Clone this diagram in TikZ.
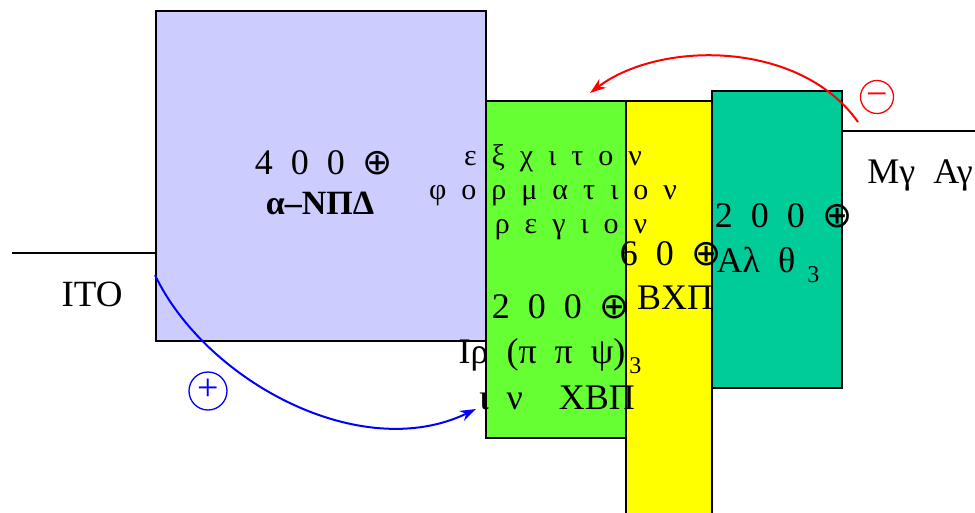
\documentclass[tikz,border=0pt]{standalone}
\usepackage{fontspec}
\setmainfont[WordSpace=2]{Liberation Serif}
\newfontfamily\symfont{DejaVu Sans}
\usetikzlibrary{arrows.meta,positioning}
\definecolor{NPD}{HTML}{CCCCFF}
\definecolor{CBP}{HTML}{66FF33}
\definecolor{BCP}{HTML}{FFFF00}
\definecolor{Alq}{HTML}{00CC99}
\newcommand{\ang}{{\symfont ⊕}}

\begin{document}
\begin{tikzpicture}[x=1pt, y=-1pt,
    layer/.style={draw, line width=1.5pt, rectangle, anchor=north west, inner sep=0pt},
    big/.style={font={\fontsize{36}{40}\selectfont}, align=center, inner sep=0pt},
    small/.style={font={\fontsize{30}{34}\selectfont}, align=center, inner sep=0pt},
    charge/.style={draw, circle, line width=1.3pt, inner sep=0pt, text height=19pt, text depth=0pt, font={\fontsize{38}{38}\selectfont}},
    electrode/.style={line width=1.3pt}
    ]
    \useasboundingbox (0,0) rectangle (975,512);

    \node [layer, fill=NPD, minimum width=330pt, minimum height=330pt] (npd) at (155,10) {};
    \node [layer, fill=CBP, minimum width=140pt, minimum height=337pt] (cbp) at (485,100) {};
    \node [layer, fill=BCP, minimum width=86pt, minimum height=420pt] (bcp) at (625,100) {};
    \node [layer, fill=Alq, minimum width=130pt, minimum height=297pt] (alq) at (711,90) {};

    \coordinate (ito) at (12,253);
    \coordinate (mgag) at (975,131);
    \draw [electrode] (ito) -- (npd.west |- ito);
    \draw [electrode] (alq.east |- mgag) -- (mgag);

    \node [big] (npdthick) at (324,163) {4 0 0 \ang};
    \node [big, font={\fontsize{34}{38}\selectfont\bfseries}] (npdname) at (320,203) {α–ΝΠΔ};
    \node [small] (exciton) at (553,192) {ε ξ χ ι τ ο ν\\φ ο ρ μ α τ ι ο ν\\\hspace*{1.2em}ρ ε γ ι ο ν};
    \node [big] (cbpthick) at (561,307) {2 0 0 \ang};
    \node [big] (irppy) at (550,356) {Ιρ (π π ψ)\raisebox{-0.6ex}{\fontsize{24}{24}\selectfont\,3}};
    \node [big] (incbp) at (557,398) {ι ν\quad ΧΒΠ};
    \node [big] (bcpthick) at (671,254) {6 0 \ang};
    \node [big] (bcpname) at (675,298) {ΒΧΠ};
    \node [big] (alqthick) at (784,216) {2 0 0 \ang};
    \node [big] (alqname) at (768,265) {Αλ θ\raisebox{-0.6ex}{\fontsize{24}{24}\selectfont\ 3}};
    \node [big, font={\fontsize{37}{40}\selectfont}] (itoname) at (92,294) {ΙΤΟ};
    \node [big] (mgagname) at (920,175) {Μγ Αγ};

    \node [charge, blue, minimum size=38pt] (hole) at (208,391) {+};
    \node [charge, red, minimum size=33pt] (electron) at (877,97) {−};

    \coordinate (hstart) at (155,275);
    \coordinate (hend) at (476,409);
    \coordinate (estart) at (858,122);
    \coordinate (eend) at (590,93);
    \draw [blue, line width=2pt, -{Stealth[length=16pt,width=11pt]}] (hstart) .. controls (205,380) and (360,465) .. (hend);
    \draw [red, line width=2pt, -{Stealth[length=16pt,width=11pt]}] (estart) .. controls (800,40) and (660,40) .. (eend);
\end{tikzpicture}
\end{document}
